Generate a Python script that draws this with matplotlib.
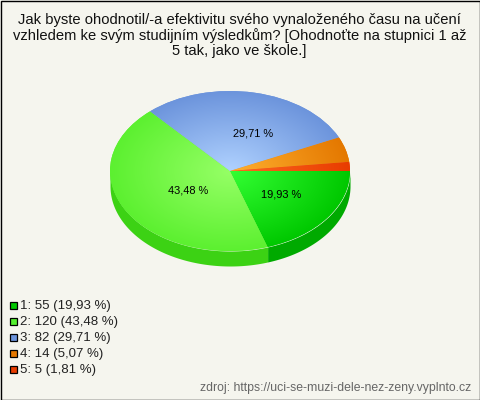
import numpy as np
import matplotlib
matplotlib.use("Agg")
import matplotlib.pyplot as plt
from matplotlib.patches import Rectangle
from matplotlib.colors import to_rgb

plt.rcParams['font.family'] = ['Liberation Sans', 'DejaVu Sans']

title_lines = ["Jak byste ohodnotil/-a efektivitu svého vynaloženého času na učení",
               "vzhledem ke svým studijním výsledkům? [Ohodnoťte na stupnici 1 až",
               "5 tak, jako ve škole.]"]
categories = ["1", "2", "3", "4", "5"]
counts = [55, 120, 82, 14, 5]
percents = ["19,93", "43,48", "29,71", "5,07", "1,81"]
inner_colors = ["#33ff33", "#96ff66", "#b0d2ff", "#ffb030", "#ff6a20"]
outer_colors = ["#00c800", "#5cf030", "#6c94dc", "#e47800", "#e83c00"]
side_colors = ["#00aa00", "#3cd214"]
legend_colors = ["#00c800", "#55f030", "#6c94dc", "#e47800", "#e83c00"]
source = "zdroj: https://uci-se-muzi-dele-nez-zeny.vyplnto.cz"

bg = "#f5f5ee"
W, H = 480, 400
fig = plt.figure(figsize=(W / 100, H / 100), dpi=100, facecolor=bg)

# full figure axes in pixels, for frame, title, legend and footer
page = fig.add_axes([0, 0, 1, 1])
page.set_xlim(0, W)
page.set_ylim(H, 0)
page.axis("off")
page.add_patch(Rectangle((0.5, 0.5), W - 1, H - 1, fc="none", ec="black", lw=1))

for i, line in enumerate(title_lines):
    page.text(239.5, 20 + i * 15.3, line, ha="center", va="center", fontsize=10.65, color="#111111")

for i, cat in enumerate(categories):
    y = 305 + i * 16
    page.add_patch(Rectangle((9.5, y - 3.5), 7.5, 7.5, fc=legend_colors[i], ec="black", lw=0.9))
    page.text(20.5, y + 0.5, f"{cat}: {counts[i]} ({percents[i]} %)", ha="left", va="center",
              fontsize=9.55, color="#222222")

page.text(471, 388.5, source, ha="right", va="center", fontsize=8.85, color="#666666")

# pie axes: ellipse 240x160 px centred on (230, 171), with room for the side
x0, x1 = 110, 350
y0, y1 = 91, 251
pie_ax = fig.add_axes([x0 / W, 1 - y1 / H, (x1 - x0) / W, (y1 - y0) / H])
wedges, _ = pie_ax.pie(counts, startangle=0, counterclock=False, radius=1,
                       colors=outer_colors, wedgeprops={"linewidth": 0})

# radial shading inside each wedge
gx, gy = np.meshgrid(np.linspace(-1, 1, 300), np.linspace(-1, 1, 300))
gr = np.clip(np.hypot(gx, gy), 0, 1)
for w, c_in, c_out in zip(wedges, inner_colors, outer_colors):
    a, b = np.array(to_rgb(c_in)), np.array(to_rgb(c_out))
    img = a + (b - a) * gr[..., None]
    im = pie_ax.imshow(img, extent=(-1, 1, -1, 1), origin="lower", zorder=2, aspect="auto")
    im.set_clip_path(w)

# side of the disc, only the front half shows
depth = 15 / 80
edges = np.cumsum([0] + counts) / sum(counts) * 2 * np.pi
for i, col in enumerate(side_colors):
    t = np.linspace(edges[i], min(edges[i + 1], np.pi), 100)
    pie_ax.fill_between(np.cos(t), -np.sin(t), -np.sin(t) - depth, color=col, lw=0, zorder=1,
                        clip_on=False)

# percent labels
for i, (lx, ly) in zip([0, 1, 2], [(0.43, -0.29), (-0.35, -0.25), (0.19, 0.47)]):
    pie_ax.text(lx, ly, f"{percents[i]} %", ha="center", va="center", fontsize=7.9,
                color="black", zorder=5)

pie_ax.set_aspect("auto")
pie_ax.set_xlim(-1, 1)
pie_ax.set_ylim(-1, 1)
pie_ax.patch.set_visible(False)

fig.savefig("out.png", dpi=100, facecolor=bg)
